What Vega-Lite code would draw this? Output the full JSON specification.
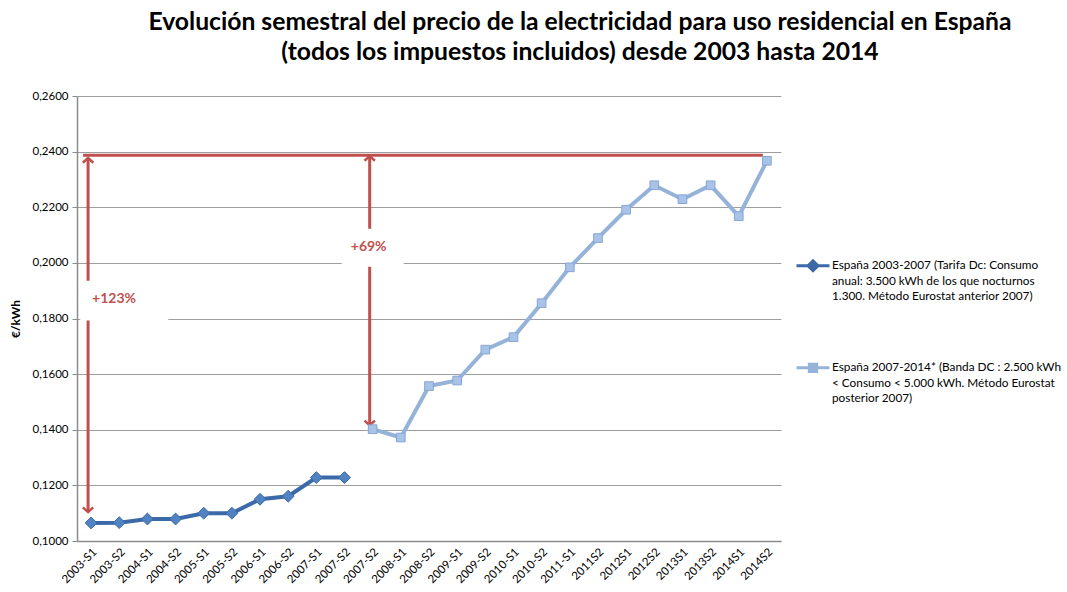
{
  "$schema": "https://vega.github.io/schema/vega-lite/v6.json",
  "width": 704,
  "height": 445,
  "autosize": {"type": "none"},
  "padding": {"left": 77, "top": 96, "right": 286, "bottom": 51},
  "background": "white",
  "config": {"view": {"stroke": null}, "font": "Lato"},
  "title": {
    "text": ["Evolución semestral del precio de la electricidad para uso residencial en España", "(todos los impuestos incluidos) desde 2003 hasta 2014"],
    "font": "Lato", "fontSize": 24.7, "fontWeight": "bold", "color": "#000000",
    "anchor": "middle", "dx": 151, "offset": 25, "lineHeight": 30
  },
  "datasets": {
    "serie": [
      {"periodo": "2003-S1", "valor": 0.1065, "serie": "España 2003-2007 (Tarifa Dc: Consumo anual: 3.500 kWh de los que nocturnos 1.300. Método Eurostat anterior 2007)"},
      {"periodo": "2003-S2", "valor": 0.1066, "serie": "España 2003-2007 (Tarifa Dc: Consumo anual: 3.500 kWh de los que nocturnos 1.300. Método Eurostat anterior 2007)"},
      {"periodo": "2004-S1", "valor": 0.1079, "serie": "España 2003-2007 (Tarifa Dc: Consumo anual: 3.500 kWh de los que nocturnos 1.300. Método Eurostat anterior 2007)"},
      {"periodo": "2004-S2", "valor": 0.1079, "serie": "España 2003-2007 (Tarifa Dc: Consumo anual: 3.500 kWh de los que nocturnos 1.300. Método Eurostat anterior 2007)"},
      {"periodo": "2005-S1", "valor": 0.1100, "serie": "España 2003-2007 (Tarifa Dc: Consumo anual: 3.500 kWh de los que nocturnos 1.300. Método Eurostat anterior 2007)"},
      {"periodo": "2005-S2", "valor": 0.1100, "serie": "España 2003-2007 (Tarifa Dc: Consumo anual: 3.500 kWh de los que nocturnos 1.300. Método Eurostat anterior 2007)"},
      {"periodo": "2006-S1", "valor": 0.1150, "serie": "España 2003-2007 (Tarifa Dc: Consumo anual: 3.500 kWh de los que nocturnos 1.300. Método Eurostat anterior 2007)"},
      {"periodo": "2006-S2", "valor": 0.1161, "serie": "España 2003-2007 (Tarifa Dc: Consumo anual: 3.500 kWh de los que nocturnos 1.300. Método Eurostat anterior 2007)"},
      {"periodo": "2007-S1", "valor": 0.1228, "serie": "España 2003-2007 (Tarifa Dc: Consumo anual: 3.500 kWh de los que nocturnos 1.300. Método Eurostat anterior 2007)"},
      {"periodo": "2007-S2", "valor": 0.1228, "serie": "España 2003-2007 (Tarifa Dc: Consumo anual: 3.500 kWh de los que nocturnos 1.300. Método Eurostat anterior 2007)"},
      {"periodo": "2007-S2 ", "valor": 0.1402, "serie": "España 2007-2014* (Banda DC : 2.500 kWh < Consumo < 5.000 kWh. Método Eurostat posterior 2007)"},
      {"periodo": "2008-S1", "valor": 0.1372, "serie": "España 2007-2014* (Banda DC : 2.500 kWh < Consumo < 5.000 kWh. Método Eurostat posterior 2007)"},
      {"periodo": "2008-S2", "valor": 0.1557, "serie": "España 2007-2014* (Banda DC : 2.500 kWh < Consumo < 5.000 kWh. Método Eurostat posterior 2007)"},
      {"periodo": "2009-S1", "valor": 0.1577, "serie": "España 2007-2014* (Banda DC : 2.500 kWh < Consumo < 5.000 kWh. Método Eurostat posterior 2007)"},
      {"periodo": "2009-S2", "valor": 0.1688, "serie": "España 2007-2014* (Banda DC : 2.500 kWh < Consumo < 5.000 kWh. Método Eurostat posterior 2007)"},
      {"periodo": "2010-S1", "valor": 0.1733, "serie": "España 2007-2014* (Banda DC : 2.500 kWh < Consumo < 5.000 kWh. Método Eurostat posterior 2007)"},
      {"periodo": "2010-S2", "valor": 0.1855, "serie": "España 2007-2014* (Banda DC : 2.500 kWh < Consumo < 5.000 kWh. Método Eurostat posterior 2007)"},
      {"periodo": "2011-S1", "valor": 0.1984, "serie": "España 2007-2014* (Banda DC : 2.500 kWh < Consumo < 5.000 kWh. Método Eurostat posterior 2007)"},
      {"periodo": "2011S2", "valor": 0.2089, "serie": "España 2007-2014* (Banda DC : 2.500 kWh < Consumo < 5.000 kWh. Método Eurostat posterior 2007)"},
      {"periodo": "2012S1", "valor": 0.2191, "serie": "España 2007-2014* (Banda DC : 2.500 kWh < Consumo < 5.000 kWh. Método Eurostat posterior 2007)"},
      {"periodo": "2012S2", "valor": 0.2279, "serie": "España 2007-2014* (Banda DC : 2.500 kWh < Consumo < 5.000 kWh. Método Eurostat posterior 2007)"},
      {"periodo": "2013S1", "valor": 0.2229, "serie": "España 2007-2014* (Banda DC : 2.500 kWh < Consumo < 5.000 kWh. Método Eurostat posterior 2007)"},
      {"periodo": "2013S2", "valor": 0.2279, "serie": "España 2007-2014* (Banda DC : 2.500 kWh < Consumo < 5.000 kWh. Método Eurostat posterior 2007)"},
      {"periodo": "2014S1", "valor": 0.2168, "serie": "España 2007-2014* (Banda DC : 2.500 kWh < Consumo < 5.000 kWh. Método Eurostat posterior 2007)"},
      {"periodo": "2014S2", "valor": 0.2367, "serie": "España 2007-2014* (Banda DC : 2.500 kWh < Consumo < 5.000 kWh. Método Eurostat posterior 2007)"}
    ],
    "referencia": [{"periodo": "2003-S1", "periodo2": "2014S2", "valor": 0.2387}],
    "flechas": [
      {"periodo": "2003-S1", "valor": 0.2377, "valor2": 0.1104},
      {"periodo": "2007-S2 ", "valor": 0.2384, "valor2": 0.1416}
    ],
    "puntas": [
      {"periodo": "2003-S1", "valor": 0.2377, "dir": "arriba"},
      {"periodo": "2003-S1", "valor": 0.1104, "dir": "abajo"},
      {"periodo": "2007-S2 ", "valor": 0.2384, "dir": "arriba"},
      {"periodo": "2007-S2 ", "valor": 0.1416, "dir": "abajo"}
    ],
    "caja1": [{"periodo": "2003-S2", "valor": 0.1936, "valor2": 0.1793}],
    "caja2": [{"periodo": "2007-S2 ", "valor": 0.2123, "valor2": 0.1986}],
    "etiqueta1": [{"periodo": "2003-S1", "valor": 0.1870, "texto": "+123%"}],
    "etiqueta2": [{"periodo": "2007-S2 ", "valor": 0.2058, "texto": "+69%"}]
  },
  "encoding": {
    "x": {
      "field": "periodo", "type": "ordinal", "sort": null,
      "scale": {"type": "band", "paddingInner": 0, "paddingOuter": 0,
        "domain": ["2003-S1","2003-S2","2004-S1","2004-S2","2005-S1","2005-S2","2006-S1","2006-S2","2007-S1","2007-S2","2007-S2 ","2008-S1","2008-S2","2009-S1","2009-S2","2010-S1","2010-S2","2011-S1","2011S2","2012S1","2012S2","2013S1","2013S2","2014S1","2014S2"]},
      "axis": {"title": null, "labelAngle": -45, "labelFont": "Lato", "labelFontSize": 11.5, "labelColor": "#000000",
        "labelExpr": "trim(datum.label)", "ticks": false, "domainColor": "#8c8c8c", "domainWidth": 1.5, "labelPadding": 5, "grid": false}
    },
    "y": {
      "field": "valor", "type": "quantitative",
      "scale": {"domain": [0.1, 0.26], "nice": false, "zero": false},
      "axis": {"title": "€/kWh", "titleFont": "Lato", "titleFontSize": 12, "titleFontWeight": "bold", "titleColor": "#000000", "titlePadding": 10,
        "values": [0.1, 0.12, 0.14, 0.16, 0.18, 0.2, 0.22, 0.24, 0.26],
        "labelExpr": "replace(format(datum.value, '.4f'), '.', ',')",
        "labelFont": "Lato", "labelFontSize": 11.5, "labelColor": "#000000", "labelPadding": 4,
        "grid": true, "gridColor": "#9e9e9e", "gridWidth": 1, "domainColor": "#8c8c8c", "domainWidth": 1.5, "tickColor": "#8c8c8c", "tickSize": 5}
    }
  },
  "layer": [
    {
      "data": {"name": "referencia"},
      "mark": {"type": "rule", "color": "#c0504d", "strokeWidth": 3, "xOffset": -8, "x2Offset": -4},
      "encoding": {"x2": {"field": "periodo2"}}
    },
    {
      "data": {"name": "flechas"},
      "mark": {"type": "rule", "color": "#c0504d", "strokeWidth": 3, "xOffset": -3},
      "encoding": {"y2": {"field": "valor2"}}
    },
    {
      "data": {"name": "caja1"},
      "mark": {"type": "bar", "color": "white", "width": 88, "xOffset": 5},
      "encoding": {"y2": {"field": "valor2"}}
    },
    {
      "data": {"name": "caja2"},
      "mark": {"type": "bar", "color": "white", "width": 62},
      "encoding": {"y2": {"field": "valor2"}}
    },
    {
      "data": {"name": "etiqueta1"},
      "mark": {"type": "text", "color": "#c0504d", "font": "Lato", "fontSize": 14, "fontWeight": "bold", "align": "left", "dx": 1},
      "encoding": {"text": {"field": "texto"}}
    },
    {
      "data": {"name": "etiqueta2"},
      "mark": {"type": "text", "color": "#c0504d", "font": "Lato", "fontSize": 14, "fontWeight": "bold", "align": "center", "dx": -4},
      "encoding": {"text": {"field": "texto"}}
    },
    {
      "data": {"name": "puntas"},
      "mark": {"type": "point", "filled": false, "color": "#c0504d", "strokeWidth": 2.5, "size": 110, "opacity": 1, "xOffset": -3},
      "encoding": {
        "shape": {"field": "dir", "type": "nominal", "legend": null,
          "scale": {"domain": ["arriba", "abajo"], "range": ["M-1,0.9L0,0L1,0.9", "M-1,-0.9L0,0L1,-0.9"]}}
      }
    },
    {
      "data": {"name": "serie"},
      "mark": {"type": "line", "strokeWidth": 4},
      "encoding": {
        "color": {"field": "serie", "type": "nominal",
          "scale": {"domain": ["España 2003-2007 (Tarifa Dc: Consumo anual: 3.500 kWh de los que nocturnos 1.300. Método Eurostat anterior 2007)", "España 2007-2014* (Banda DC : 2.500 kWh < Consumo < 5.000 kWh. Método Eurostat posterior 2007)"],
            "range": ["#3c6aa8", "#95b3d9"]},
          "legend": {
            "orient": "none", "legendX": 718, "legendY": 146, "title": null,
            "labelExpr": "datum.label == 'España 2003-2007 (Tarifa Dc: Consumo anual: 3.500 kWh de los que nocturnos 1.300. Método Eurostat anterior 2007)' ? ['España 2003-2007 (Tarifa Dc: Consumo', 'anual: 3.500 kWh de los que nocturnos', '1.300. Método Eurostat anterior 2007)'] : ['España 2007-2014* (Banda DC : 2.500 kWh', '< Consumo < 5.000 kWh. Método Eurostat', 'posterior 2007)']",
            "labelFont": "Lato", "labelFontSize": 11.8, "labelColor": "#000000", "labelLimit": 400, "labelBaseline": "top", "labelOffset": 1,
            "rowPadding": 41, "symbolSize": 1089, "symbolStrokeWidth": 3,
            "encode": {
              "symbols": {"update": {
                "shape": {"signal": "datum.value == 'España 2003-2007 (Tarifa Dc: Consumo anual: 3.500 kWh de los que nocturnos 1.300. Método Eurostat anterior 2007)' ? 'M-1,0.35H1M-0.3,0.35L0,0.05L0.3,0.35L0,0.65Z' : 'M-1,0.35H1M-0.22,0.13H0.22V0.57H-0.22Z'"},
                "fill": {"scale": "color", "field": "value"}
              }},
              "labels": {"update": {"lineHeight": {"value": 15.5}}}
            }
          }
        }
      }
    },
    {
      "data": {"name": "serie"},
      "transform": [{"filter": {"field": "serie", "equal": "España 2003-2007 (Tarifa Dc: Consumo anual: 3.500 kWh de los que nocturnos 1.300. Método Eurostat anterior 2007)"}}],
      "mark": {"type": "point", "shape": "diamond", "filled": true, "fill": "#5183c2", "stroke": "#3c6aa8", "strokeWidth": 1, "size": 140, "opacity": 1}
    },
    {
      "data": {"name": "serie"},
      "transform": [{"filter": {"field": "serie", "equal": "España 2007-2014* (Banda DC : 2.500 kWh < Consumo < 5.000 kWh. Método Eurostat posterior 2007)"}}],
      "mark": {"type": "point", "shape": "square", "filled": true, "fill": "#a9c3e8", "stroke": "#86a6d4", "strokeWidth": 1, "size": 75, "opacity": 1}
    }
  ]
}
